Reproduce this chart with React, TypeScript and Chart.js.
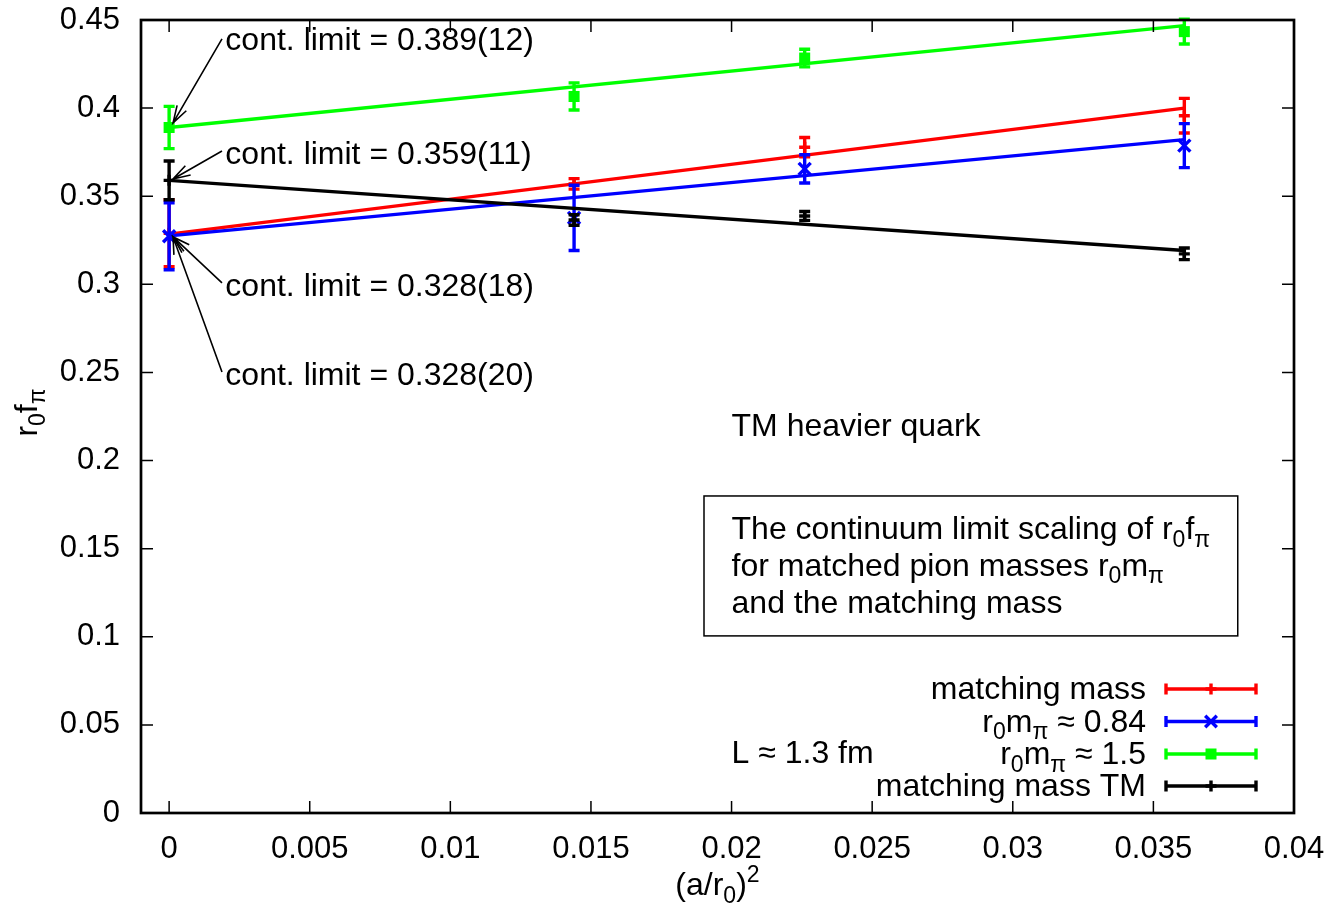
import React, { useEffect, useRef } from 'react';
import { Chart, registerables } from 'chart.js';

Chart.register(...registerables);

const FONT = '"Liberation Sans", Arial, Helvetica, sans-serif';
const TICK_SIZE = 31;
const TEXT_SIZE = 32;

// ---- data ----
const xTicks = [0, 0.005, 0.01, 0.015, 0.02, 0.025, 0.03, 0.035, 0.04];
const xTickLabels = ['0', '0.005', '0.01', '0.015', '0.02', '0.025', '0.03', '0.035', '0.04'];
const yTicks = [0, 0.05, 0.1, 0.15, 0.2, 0.25, 0.3, 0.35, 0.4, 0.45];
const yTickLabels = ['0', '0.05', '0.1', '0.15', '0.2', '0.25', '0.3', '0.35', '0.4', '0.45'];

const xValues = [0, 0.0144, 0.0226, 0.0361];

const redY = [0.329, 0.357, 0.3778, 0.3957];
const redErr = [0.019, 0.003, 0.0055, 0.0098];
const blueY = [0.3273, 0.3377, 0.3655, 0.3787];
const blueErr = [0.019, 0.0185, 0.008, 0.0125];
const greenY = [0.389, 0.4066, 0.4284, 0.4434];
const greenErr = [0.012, 0.0077, 0.005, 0.007];
const blackY = [0.359, 0.3365, 0.3388, 0.3173];
const blackErr = [0.011, 0.003, 0.0025, 0.0033];

const fitX = [0, 0.0361];
const redFit = [0.3285, 0.4];
const blueFit = [0.3275, 0.3821];
const greenFit = [0.389, 0.4468];
const blackFit = [0.359, 0.3192];

const annotLabels = ['cont. limit = 0.389(12)', 'cont. limit = 0.359(11)', 'cont. limit = 0.328(18)', 'cont. limit = 0.328(20)'];
const annotX = [0.002, 0.002, 0.002, 0.002];
const annotY = [0.4393, 0.3746, 0.2997, 0.2491];
const arrowFromX = [0.00188, 0.00188, 0.00188, 0.00188];
const arrowFromY = [0.4393, 0.3757, 0.3008, 0.2503];
const arrowToX = [0.00014, 0.00014, 0.00014, 0.00014];
const arrowToY = [0.3916, 0.3598, 0.3269, 0.3269];

type Seg = [string, number]; // 0 normal, 1 subscript, 2 superscript

const legendEntries: Seg[][] = [
  [['matching mass', 0]],
  [['r', 0], ['0', 1], ['m', 0], ['π', 1], [' ≈ 0.84', 0]],
  [['r', 0], ['0', 1], ['m', 0], ['π', 1], [' ≈ 1.5', 0]],
  [['matching mass TM', 0]],
];

const boxLines: Seg[][] = [
  [['The continuum limit scaling of r', 0], ['0', 1], ['f', 0], ['π', 1]],
  [['for matched pion masses r', 0], ['0', 1], ['m', 0], ['π', 1]],
  [['and the matching mass', 0]],
];
const boxLineY = [0.1615, 0.141, 0.1195];
const boxX = [0.01902, 0.038];
const boxY = [0.1005, 0.1799];

const xTitle: Seg[] = [['(a/r', 0], ['0', 1], [')', 0], ['2', 2]];
const yTitle: Seg[] = [['r', 0], ['0', 1], ['f', 0], ['π', 1]];

const colors = ['#ff0000', '#0000ff', '#00ff00', '#000000'];
const markers = ['cross', 'crossRot', 'rect', 'cross'];

const LW = 3.4;

function font(size: number) {
  return `${size}px ${FONT}`;
}

function drawRich(ctx: CanvasRenderingContext2D, segs: Seg[], x: number, baseline: number, size: number, align: string) {
  const sub = size * 0.72;
  let w = 0;
  for (const [t, k] of segs) {
    ctx.font = font(k ? sub : size);
    w += ctx.measureText(t).width;
  }
  let cx = align === 'right' ? x - w : align === 'center' ? x - w / 2 : x;
  ctx.textAlign = 'left';
  ctx.textBaseline = 'alphabetic';
  for (const [t, k] of segs) {
    ctx.font = font(k ? sub : size);
    const off = k === 1 ? size * 0.24 : k === 2 ? -size * 0.42 : 0;
    ctx.fillText(t, cx, baseline + off);
    cx += ctx.measureText(t).width;
  }
}

function drawMarker(ctx: CanvasRenderingContext2D, style: string, color: string, x: number, y: number) {
  ctx.save();
  ctx.strokeStyle = color;
  ctx.fillStyle = color;
  ctx.lineWidth = LW;
  ctx.beginPath();
  if (style === 'cross') {
    ctx.moveTo(x - 5.5, y); ctx.lineTo(x + 5.5, y);
    ctx.moveTo(x, y - 5.5); ctx.lineTo(x, y + 5.5);
    ctx.stroke();
  } else if (style === 'crossRot') {
    const s = 5.8;
    ctx.moveTo(x - s, y - s); ctx.lineTo(x + s, y + s);
    ctx.moveTo(x + s, y - s); ctx.lineTo(x - s, y + s);
    ctx.stroke();
  } else {
    ctx.fillRect(x - 5.5, y - 5.5, 11, 11);
  }
  ctx.restore();
}

const errorBarPlugin = {
  id: 'errorBars',
  afterDatasetDraw(chart: any, args: any) {
    const ds = chart.data.datasets[args.index];
    if (!ds.errors) return;
    const ctx = chart.ctx as CanvasRenderingContext2D;
    const ys = chart.scales.y;
    ctx.save();
    ctx.strokeStyle = ds.borderColor;
    ctx.lineWidth = LW;
    args.meta.data.forEach((pt: any, i: number) => {
      const v = ds.data[i].y;
      const e = ds.errors[i];
      const x = pt.x;
      const y1 = ys.getPixelForValue(v + e);
      const y2 = ys.getPixelForValue(v - e);
      ctx.beginPath();
      ctx.moveTo(x, y1); ctx.lineTo(x, y2);
      ctx.moveTo(x - 5.5, y1); ctx.lineTo(x + 5.5, y1);
      ctx.moveTo(x - 5.5, y2); ctx.lineTo(x + 5.5, y2);
      ctx.stroke();
    });
    ctx.restore();
  },
};

const decorPlugin = {
  id: 'decor',
  afterDraw(chart: any) {
    const ctx = chart.ctx as CanvasRenderingContext2D;
    const a = chart.chartArea;
    const xs = chart.scales.x;
    const ys = chart.scales.y;
    ctx.save();
    ctx.fillStyle = '#000';
    ctx.strokeStyle = '#000';

    // ticks (inward, mirrored)
    ctx.lineWidth = 1.5;
    ctx.beginPath();
    xs.ticks.forEach((t: any) => {
      const px = xs.getPixelForValue(t.value);
      ctx.moveTo(px, a.bottom); ctx.lineTo(px, a.bottom - 12);
      ctx.moveTo(px, a.top); ctx.lineTo(px, a.top + 12);
    });
    ys.ticks.forEach((t: any) => {
      const py = ys.getPixelForValue(t.value);
      ctx.moveTo(a.left, py); ctx.lineTo(a.left + 12, py);
      ctx.moveTo(a.right, py); ctx.lineTo(a.right - 12, py);
    });
    ctx.stroke();

    // border
    ctx.lineWidth = 2.7;
    ctx.strokeRect(a.left, a.top, a.right - a.left, a.bottom - a.top);

    // axis titles
    drawRich(ctx, xTitle, (a.left + a.right) / 2, a.bottom + 82, TEXT_SIZE, 'center');
    ctx.save();
    ctx.translate(37, (a.top + a.bottom) / 2 - 4);
    ctx.rotate(-Math.PI / 2);
    drawRich(ctx, yTitle, 0, 0, TEXT_SIZE, 'center');
    ctx.restore();

    // annotations with arrows
    ctx.lineWidth = 1.6;
    for (let i = 0; i < annotLabels.length; i++) {
      drawRich(ctx, [[annotLabels[i], 0]], xs.getPixelForValue(annotX[i]), ys.getPixelForValue(annotY[i]) + 11, TEXT_SIZE, 'left');
      const x1 = xs.getPixelForValue(arrowFromX[i]);
      const y1 = ys.getPixelForValue(arrowFromY[i]);
      const x2 = xs.getPixelForValue(arrowToX[i]);
      const y2 = ys.getPixelForValue(arrowToY[i]);
      const ang = Math.atan2(y2 - y1, x2 - x1);
      const hl = 18;
      const hw = 0.3;
      ctx.beginPath();
      ctx.moveTo(x1, y1); ctx.lineTo(x2, y2);
      ctx.moveTo(x2 - hl * Math.cos(ang - hw), y2 - hl * Math.sin(ang - hw));
      ctx.lineTo(x2, y2);
      ctx.lineTo(x2 - hl * Math.cos(ang + hw), y2 - hl * Math.sin(ang + hw));
      ctx.stroke();
    }

    // TM label
    drawRich(ctx, [['TM heavier quark', 0]], xs.getPixelForValue(0.02), ys.getPixelForValue(0.2202) + 11, TEXT_SIZE, 'left');
    drawRich(ctx, [['L ≈ 1.3 fm', 0]], xs.getPixelForValue(0.02), ys.getPixelForValue(0.0346) + 11, TEXT_SIZE, 'left');

    // box
    ctx.lineWidth = 1.5;
    const bx1 = xs.getPixelForValue(boxX[0]);
    const bx2 = xs.getPixelForValue(boxX[1]);
    const by1 = ys.getPixelForValue(boxY[1]);
    const by2 = ys.getPixelForValue(boxY[0]);
    ctx.strokeRect(bx1, by1, bx2 - bx1, by2 - by1);
    boxLines.forEach((segs, i) => {
      drawRich(ctx, segs, xs.getPixelForValue(0.02), ys.getPixelForValue(boxLineY[i]) + 11, TEXT_SIZE, 'left');
    });

    // legend
    const rowOffsets = [-124, -91.5, -59, -27];
    legendEntries.forEach((segs, i) => {
      const ry = a.bottom + rowOffsets[i];
      ctx.fillStyle = '#000';
      drawRich(ctx, segs, a.right - 148, ry + 10, TEXT_SIZE, 'right');
      const lx1 = a.right - 128;
      const lx2 = a.right - 38;
      ctx.save();
      ctx.strokeStyle = colors[i];
      ctx.lineWidth = LW;
      ctx.beginPath();
      ctx.moveTo(lx1, ry); ctx.lineTo(lx2, ry);
      ctx.moveTo(lx1, ry - 5.5); ctx.lineTo(lx1, ry + 5.5);
      ctx.moveTo(lx2, ry - 5.5); ctx.lineTo(lx2, ry + 5.5);
      ctx.stroke();
      ctx.restore();
      drawMarker(ctx, markers[i], colors[i], (lx1 + lx2) / 2, ry);
    });

    ctx.restore();
  },
};

export default function App() {
  const ref = useRef<HTMLCanvasElement | null>(null);

  useEffect(() => {
    if (!ref.current) return;
    const seriesY = [redY, blueY, greenY, blackY];
    const seriesErr = [redErr, blueErr, greenErr, blackErr];
    const fits = [redFit, blueFit, greenFit, blackFit];
    const radii = [5.5, 8.5, 7.8, 5.5];

    const datasets: any[] = [];
    for (let s = 0; s < 4; s++) {
      datasets.push({
        type: 'scatter',
        data: xValues.map((x, i) => ({ x, y: seriesY[s][i] })),
        errors: seriesErr[s],
        borderColor: colors[s],
        backgroundColor: colors[s],
        pointStyle: markers[s],
        pointRadius: radii[s],
        pointBorderWidth: markers[s] === 'rect' ? 0 : LW,
        showLine: false,
        clip: false,
        order: 10 - s * 2,
      });
      datasets.push({
        type: 'line',
        data: fitX.map((x, i) => ({ x, y: fits[s][i] })),
        borderColor: colors[s],
        borderWidth: LW,
        pointRadius: 0,
        fill: false,
        tension: 0,
        order: 9 - s * 2,
      });
    }

    const chart = new Chart(ref.current, {
      type: 'scatter',
      data: { datasets },
      plugins: [errorBarPlugin, decorPlugin],
      options: {
        animation: false,
        responsive: false,
        devicePixelRatio: 1,
        layout: { padding: { left: 0, top: 20, right: 40, bottom: 0 } },
        plugins: { legend: { display: false }, tooltip: { enabled: false } },
        scales: {
          x: {
            type: 'linear',
            min: -0.001,
            max: 0.04,
            afterBuildTicks: (s: any) => { s.ticks = xTicks.map((v) => ({ value: v })); },
            afterFit: (s: any) => { s.height = 93; s.paddingLeft = 0; s.paddingRight = 0; },
            ticks: {
              callback: (_v: any, i: number) => xTickLabels[i],
              font: { size: TICK_SIZE, family: FONT },
              color: '#000',
              padding: 18,
              maxRotation: 0,
              autoSkip: false,
            },
            grid: { display: false, drawTicks: false },
            border: { display: false },
          },
          y: {
            type: 'linear',
            min: 0,
            max: 0.45,
            afterBuildTicks: (s: any) => { s.ticks = yTicks.map((v) => ({ value: v })); },
            afterFit: (s: any) => { s.width = 141; s.paddingTop = 0; s.paddingBottom = 0; },
            ticks: {
              callback: (_v: any, i: number) => yTickLabels[i],
              font: { size: TICK_SIZE, family: FONT },
              color: '#000',
              padding: 21,
              autoSkip: false,
            },
            grid: { display: false, drawTicks: false },
            border: { display: false },
          },
        },
      } as any,
    });
    return () => chart.destroy();
  }, []);

  return (
    <div style={{ position: 'absolute', left: 0, top: 0, width: 1334, height: 906, background: '#fff' }}>
      <canvas ref={ref} width={1334} height={906} style={{ width: 1334, height: 906, display: 'block' }} />
    </div>
  );
}
